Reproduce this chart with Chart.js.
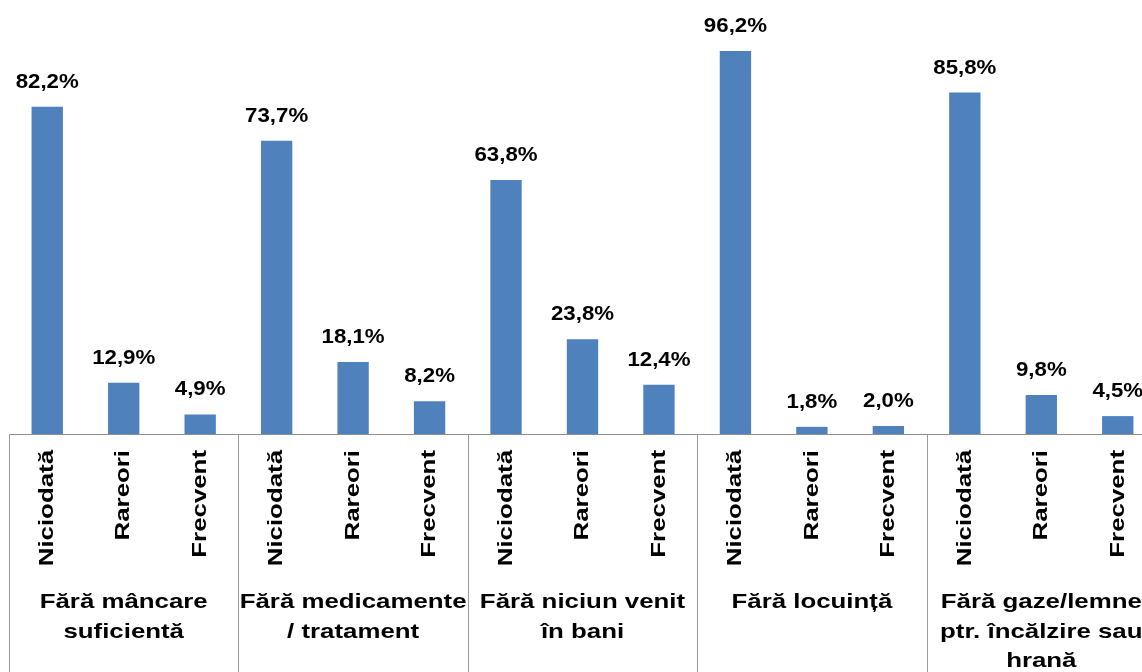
<!DOCTYPE html>
<html>
<head>
<meta charset="utf-8">
<script src="https://cdn.jsdelivr.net/npm/chart.js@4.4.1/dist/chart.umd.min.js"></script>
<style>
  html, body { margin: 0; padding: 0; background: #fff; overflow: hidden; }
</style>
</head>
<body>
<canvas id="myChart" width="1160" height="672"></canvas>
<script>
const ctx = document.getElementById('myChart').getContext('2d');

// data
var answers = ['Niciodată', 'Rareori', 'Frecvent'];
var groups = [
  ['Fără mâncare', 'suficientă'],
  ['Fără medicamente', '/ tratament'],
  ['Fără niciun venit', 'în bani'],
  ['Fără locuință'],
  ['Fără gaze/lemne', 'ptr. încălzire sau', 'hrană']
];
var values = [82.2, 12.9, 4.9, 73.7, 18.1, 8.2, 63.8, 23.8, 12.4, 96.2, 1.8, 2.0, 85.8, 9.8, 4.5];

var labels = [];
for (let g = 0; g < groups.length; g++) {
  for (let a = 0; a < answers.length; a++) labels.push(answers[a]);
}

const FONT = '"Liberation Sans", Arial, sans-serif';
const STRETCH = 1.23; // text in the original is drawn wide

function fmt(v) {
  return v.toFixed(1).replace('.', ',') + '%';
}

// value labels above bars
const barLabels = {
  id: 'barLabels',
  afterDatasetsDraw(chart) {
    const c = chart.ctx;
    const meta = chart.getDatasetMeta(0);
    c.save();
    c.font = 'bold 21px ' + FONT;
    c.fillStyle = '#000';
    c.textAlign = 'center';
    c.textBaseline = 'alphabetic';
    meta.data.forEach(function (bar, i) {
      c.save();
      c.translate(bar.x, bar.y - 19);
      c.scale(1.06, 1);
      c.fillText(fmt(values[i]), 0, 0);
      c.restore();
    });
    c.restore();
  }
};

// category labels, group labels and separators under the axis
const groupAxis = {
  id: 'groupAxis',
  afterDraw(chart) {
    const c = chart.ctx;
    const x = chart.scales.x;
    const area = chart.chartArea;
    const step = x.getPixelForValue(1) - x.getPixelForValue(0);
    c.save();
    c.strokeStyle = '#9a9a9a';
    c.lineWidth = 1;
    for (let g = 0; g <= groups.length; g++) {
      const px = Math.round(x.getPixelForValue(g * 3) - step / 2) + 0.5;
      c.beginPath();
      c.moveTo(px, area.bottom);
      c.lineTo(px, chart.height);
      c.stroke();
    }
    c.font = 'bold 21px ' + FONT;
    c.fillStyle = '#000';

    // rotated answer labels
    c.textAlign = 'right';
    c.textBaseline = 'middle';
    labels.forEach(function (lab, i) {
      c.save();
      c.translate(x.getPixelForValue(i), area.bottom + 16);
      c.rotate(-Math.PI / 2);
      c.scale(STRETCH, 1);
      c.fillText(lab, 0, 0);
      c.restore();
    });

    // group names
    c.textAlign = 'center';
    c.textBaseline = 'alphabetic';
    for (let g = 0; g < groups.length; g++) {
      const cx = x.getPixelForValue(g * 3 + 1);
      groups[g].forEach(function (line, j) {
        c.save();
        c.translate(cx, 608 + j * 29.5);
        c.scale(STRETCH, 1);
        c.fillText(line, 0, 0);
        c.restore();
      });
    }
    c.restore();
  }
};

var myChart = new Chart(ctx, {
  type: 'bar',
  data: {
    labels: labels,
    datasets: [{
      data: values,
      backgroundColor: '#4F81BD',
      barPercentage: 0.41,
      categoryPercentage: 1.0
    }]
  },
  options: {
    responsive: false,
    animation: false,
    layout: { padding: { left: 9, right: 4, top: 36, bottom: 0 } },
    plugins: {
      legend: { display: false },
      tooltip: { enabled: false }
    },
    scales: {
      x: {
        grid: { display: false, drawTicks: false },
        border: { display: true, color: '#8c8c8c', width: 1 },
        ticks: { display: false },
        afterFit(scale) {
          scale.height = 238;
          scale.paddingLeft = 0;
          scale.paddingRight = 0;
        }
      },
      y: {
        display: false,
        min: 0,
        max: 100
      }
    }
  },
  plugins: [barLabels, groupAxis]
});
</script>
</body>
</html>
